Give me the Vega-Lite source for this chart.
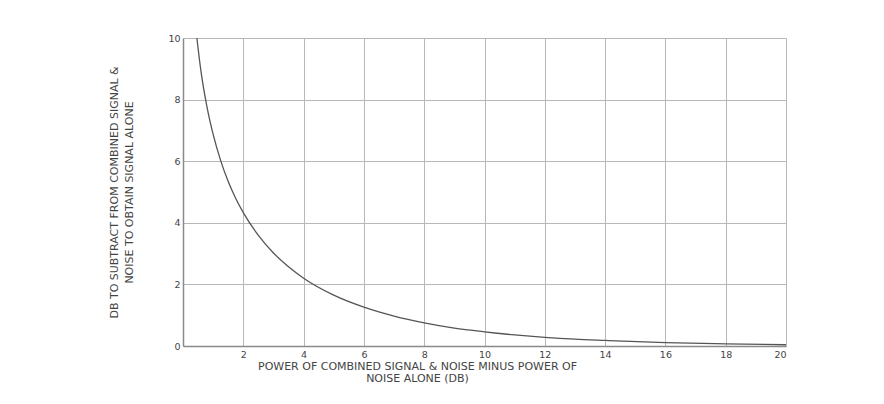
{
  "$schema": "https://vega.github.io/schema/vega-lite/v6.json",
  "width": 603,
  "height": 308,
  "autosize": {"type": "none"},
  "padding": {"left": 183, "top": 38, "right": 98, "bottom": 58},
  "background": "white",
  "data": {"values": [
    {"x": 0.46, "y": 10.0},
    {"x": 0.6, "y": 8.89},
    {"x": 0.8, "y": 7.74},
    {"x": 1.0, "y": 6.87},
    {"x": 1.25, "y": 6.02},
    {"x": 1.5, "y": 5.34},
    {"x": 1.75, "y": 4.79},
    {"x": 2.0, "y": 4.33},
    {"x": 2.5, "y": 3.59},
    {"x": 3.0, "y": 3.02},
    {"x": 3.5, "y": 2.57},
    {"x": 4.0, "y": 2.2},
    {"x": 5.0, "y": 1.65},
    {"x": 6.0, "y": 1.26},
    {"x": 7.0, "y": 0.97},
    {"x": 8.0, "y": 0.75},
    {"x": 9.0, "y": 0.58},
    {"x": 10.0, "y": 0.46},
    {"x": 11.0, "y": 0.36},
    {"x": 12.0, "y": 0.28},
    {"x": 13.0, "y": 0.22},
    {"x": 14.0, "y": 0.18},
    {"x": 16.0, "y": 0.11},
    {"x": 18.0, "y": 0.07},
    {"x": 20.0, "y": 0.04}
  ]},
  "mark": {"type": "line", "color": "#555555", "strokeWidth": 1.3, "interpolate": "monotone"},
  "encoding": {
    "x": {
      "field": "x", "type": "quantitative",
      "scale": {"domain": [0, 20], "nice": false},
      "axis": {
        "values": [2, 4, 6, 8, 10, 12, 14, 16, 18, 20],
        "gridValues": [0, 2, 4, 6, 8, 10, 12, 14, 16, 18, 20],
        "title": ["POWER OF COMBINED SIGNAL & NOISE  MINUS POWER OF", "NOISE ALONE (DB)"],
        "titleAnchor": "start",
        "titleAlign": "center",
        "titleX": 234,
        "titleY": 14,
        "titleBaseline": "top",
        "titleLineHeight": 12
      }
    },
    "y": {
      "field": "y", "type": "quantitative",
      "scale": {"domain": [0, 10], "nice": false},
      "axis": {
        "values": [0, 2, 4, 6, 8, 10],
        "title": ["DB TO SUBTRACT FROM COMBINED SIGNAL &", "NOISE TO OBTAIN SIGNAL ALONE"],
        "titleX": -69,
        "titleY": 154,
        "titleAlign": "center",
        "titleBaseline": "middle",
        "titleAngle": -90,
        "titleLineHeight": 15
      }
    }
  },
  "config": {
    "view": {"stroke": null},
    "axis": {
      "grid": true,
      "gridColor": "#b8b8b8",
      "gridWidth": 1,
      "domainColor": "#8a8a8a",
      "domainWidth": 1.5,
      "ticks": false,
      "labelFont": "DejaVu Sans",
      "labelFontSize": 9.5,
      "labelColor": "#444444",
      "labelPadding": 3,
      "titleFont": "DejaVu Sans",
      "titleFontSize": 11,
      "titleFontWeight": "normal",
      "titleColor": "#444444"
    }
  }
}
